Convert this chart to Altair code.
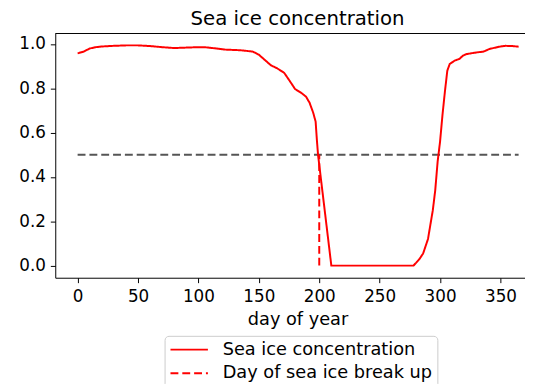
import altair as alt
import pandas as pd

# Sea ice concentration by day of year
days = [0, 5, 10, 15, 20, 30, 40, 50, 60, 70, 80, 90, 100, 105, 115, 122, 135, 145,
        150, 155, 160, 165, 171, 176, 180, 185, 189, 192, 195, 197, 198, 199, 210,
        240, 278, 283, 286, 290, 294, 296, 298, 300, 302, 304, 306, 308, 312, 316,
        319, 322, 330, 336, 341, 349, 354, 360, 365]
conc = [0.958, 0.966, 0.980, 0.986, 0.989, 0.992, 0.994, 0.994, 0.991, 0.986, 0.982,
        0.984, 0.986, 0.986, 0.980, 0.975, 0.972, 0.966,
        0.952, 0.928, 0.904, 0.891, 0.870, 0.830, 0.797, 0.780, 0.763, 0.735, 0.690,
        0.650, 0.570, 0.500, 0.0,
        0.0, 0.0, 0.030, 0.055, 0.120, 0.250, 0.340, 0.470, 0.560, 0.680, 0.785,
        0.880, 0.910, 0.925, 0.933,
        0.948, 0.955, 0.962, 0.966, 0.978, 0.988, 0.992, 0.991, 0.988]

breakup_day = [200]
threshold = [0.5]
series_names = ["Sea ice concentration", "Day of sea ice break up"]
x_ticks = [0, 50, 100, 150, 200, 250, 300, 350]
y_ticks = [0.0, 0.2, 0.4, 0.6, 0.8, 1.0]
x_domain = [-18.5, 370.3]
y_domain = [-0.0547, 1.0476]

df_line = pd.DataFrame({"day": days, "conc": conc, "series": series_names[0]})
df_break = pd.DataFrame({"day": breakup_day, "y0": [0.0], "y1": threshold,
                         "series": series_names[1]})
df_thr = pd.DataFrame({"x0": [days[0]], "x1": [days[-1]], "y": threshold})
df_top = pd.DataFrame({"y": [y_domain[1]]})

FONT = "DejaVu Sans"

xscale = alt.Scale(domain=x_domain, nice=False, zero=False)
yscale = alt.Scale(domain=y_domain, nice=False, zero=False)

xaxis = alt.Axis(values=x_ticks, format="d", title="day of year", grid=False,
                 titleX=246, titleY=47, titleBaseline="alphabetic", titleAnchor="start",
                 titleAlign="center", labelPadding=6)
yaxis = alt.Axis(values=y_ticks, format=".1f", title=None, grid=False, labelPadding=5)

dash_scale = alt.Scale(domain=series_names, range=[[1, 0], [8, 4]])
dash_legend = alt.Legend(title=None, orient="none", legendX=111, legendY=307,
                         symbolType="stroke", symbolStrokeColor="red",
                         symbolStrokeWidth=2, symbolSize=1444, labelFontSize=18,
                         labelFont=FONT, labelColor="black", labelOffset=14,
                         labelLimit=400, clipHeight=18,
                         strokeColor="#cccccc", fillColor="white", cornerRadius=4,
                         padding=5, rowPadding=6)

thr = alt.Chart(df_thr).mark_rule(color="#555555", strokeDash=[8, 4], strokeWidth=2).encode(
    x=alt.X("x0:Q", scale=xscale, axis=xaxis),
    x2="x1:Q",
    y=alt.Y("y:Q", scale=yscale, axis=yaxis),
)

line = alt.Chart(df_line).mark_line(color="red", strokeWidth=2).encode(
    x=alt.X("day:Q", scale=xscale, axis=xaxis),
    y=alt.Y("conc:Q", scale=yscale, axis=yaxis),
    strokeDash=alt.StrokeDash("series:N", scale=dash_scale, legend=dash_legend),
)

brk = alt.Chart(df_break).mark_rule(color="red", strokeWidth=2).encode(
    x=alt.X("day:Q", scale=xscale, axis=xaxis),
    y=alt.Y("y0:Q", scale=yscale, axis=yaxis),
    y2="y1:Q",
    strokeDash=alt.StrokeDash("series:N", scale=dash_scale, legend=dash_legend),
)

top = alt.Chart(df_top).mark_rule(color="black", strokeWidth=1).encode(
    y=alt.Y("y:Q", scale=yscale, axis=yaxis),
)

chart = alt.layer(thr, line, brk, top).properties(
    width=477,
    height=248,
    title=alt.TitleParams("Sea ice concentration", fontSize=20, font=FONT,
                          fontWeight="normal", color="black", anchor="middle",
                          frame="group", dx=7.5, dy=20, offset=8, baseline="alphabetic"),
    autosize=alt.AutoSizeParams(type="none"),
    padding={"left": 48, "top": 23, "right": 0, "bottom": 105},
).configure_view(stroke=None).configure_axis(
    labelFont=FONT, labelFontSize=17, labelColor="black", titleFont=FONT,
    titleFontSize=18, titleColor="black", titleFontWeight="normal",
    domainColor="black", domainWidth=1, tickColor="black", tickSize=5, tickWidth=1,
)

chart.save("out.html", embed_options={"renderer": "svg", "actions": False})
